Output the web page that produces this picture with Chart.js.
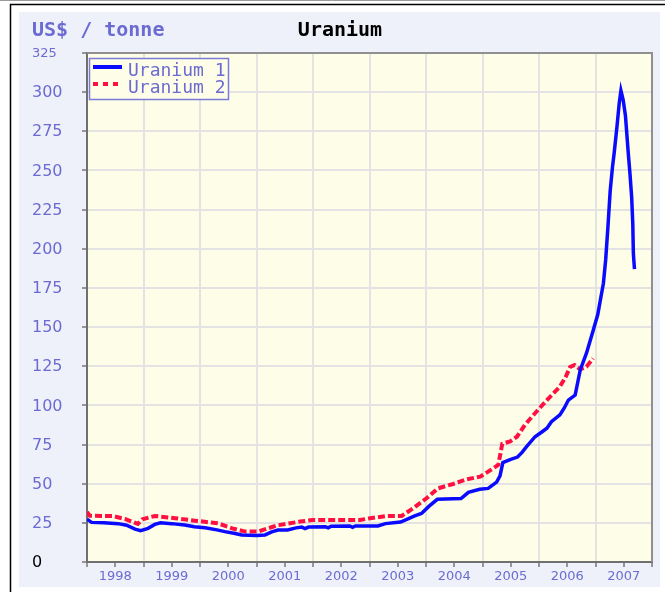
<!DOCTYPE html>
<html>
<head>
<meta charset="utf-8">
<script src="https://cdn.jsdelivr.net/npm/chart.js@4"></script>
<style>
  html, body { margin: 0; padding: 0; background: #fff; }
  #wrap { width: 665px; height: 592px; }
</style>
</head>
<body>
<div id="wrap"><canvas id="chart" width="665" height="592"></canvas></div>
<script>
// decimal years and prices
const u1Dates = [1998.00, 1998.08, 1998.30, 1998.55, 1998.70, 1998.85, 1998.95, 1999.08, 1999.20, 1999.30,
  1999.50, 1999.73, 1999.90, 2000.09, 2000.30, 2000.44, 2000.60, 2000.74, 2001.00, 2001.15,
  2001.27, 2001.38, 2001.55, 2001.70, 2001.80, 2001.86, 2001.92, 2002.22, 2002.27, 2002.32,
  2002.65, 2002.70, 2002.75, 2003.15, 2003.28, 2003.55, 2003.68, 2003.80, 2003.92, 2004.05,
  2004.20, 2004.62, 2004.75, 2004.95, 2005.10, 2005.25, 2005.31, 2005.36, 2005.50, 2005.62,
  2005.70, 2005.78, 2005.93, 2006.05, 2006.14, 2006.22, 2006.37, 2006.45, 2006.52, 2006.64,
  2006.73, 2006.84, 2006.96, 2007.04, 2007.10, 2007.14, 2007.18, 2007.22, 2007.26, 2007.30,
  2007.33, 2007.38, 2007.42, 2007.45, 2007.49, 2007.53, 2007.58, 2007.61, 2007.64, 2007.66,
  2007.67, 2007.69];
const u1Values = [27.3, 25.3, 25, 24.5, 23.5, 21, 20, 21.5, 24, 25,
  24.5, 23.6, 22.5, 21.8, 20.5, 19.4, 18.3, 17.2, 17, 17.3,
  19.2, 20.4, 20.5, 21.8, 22.3, 21.3, 22.3, 22.5, 21.8, 22.8,
  23, 22.2, 23, 23, 24.5, 25.5, 27.5, 29.5, 31, 35.5,
  40, 40.5, 44.5, 46.4, 47, 51, 55, 63.5, 65.5, 67,
  70, 73.6, 80, 83, 85.4, 89.6, 93.9, 98.5, 103.4, 106.6,
  122.6, 133.3, 148, 158, 170, 178, 193, 214, 237, 252,
  261, 278, 293, 301, 295, 285, 261, 248, 233, 216,
  197, 187];

const u2Dates = [1998.00, 1998.05, 1998.45, 1998.67, 1998.90, 1998.98, 1999.20, 1999.56, 1999.91, 2000.32,
  2000.57, 2000.80, 2001.03, 2001.20, 2001.38, 2001.77, 2002.00, 2002.83, 2003.01, 2003.30,
  2003.57, 2003.77, 2004.01, 2004.21, 2004.48, 2004.72, 2004.96, 2005.19, 2005.28, 2005.35,
  2005.49, 2005.61, 2005.75, 2005.93, 2006.14, 2006.37, 2006.47, 2006.55, 2006.63, 2006.73,
  2006.84, 2006.96];
const u2Values = [32, 29.5, 29.4, 27.5, 24.3, 27.3, 29.4, 28, 26.4, 24.7,
  21.5, 19.4, 19.4, 21.5, 23.5, 25.8, 26.8, 26.8, 27.9, 29.4,
  29.4, 34.3, 40.7, 47, 49.8, 52.8, 54.5, 59.8, 62, 75.5,
  77, 80, 87.5, 95, 103.4, 112, 118, 124.5, 125.8, 123,
  124.7, 130];

const yearLabels = ["1998", "1999", "2000", "2001", "2002", "2003", "2004", "2005", "2006", "2007"];

const slate = "#6b6bd1";

//draws the page frame, panel, plot background, titles, y labels and legend
const framePlugin = {
  id: "frame",
  beforeDraw(chart) {
    const { ctx, width, height, chartArea: a } = chart;
    ctx.save();
    ctx.fillStyle = "#ffffff";
    ctx.fillRect(0, 0, width, height);
    ctx.strokeStyle = "#9a9a9a";
    ctx.lineWidth = 1;
    ctx.beginPath(); ctx.moveTo(0, 0.5); ctx.lineTo(width, 0.5); ctx.stroke();
    ctx.strokeStyle = "#000";
    ctx.lineWidth = 1.5;
    ctx.beginPath(); ctx.moveTo(10.5, height); ctx.lineTo(10.5, 4.5); ctx.lineTo(width, 4.5); ctx.stroke();
    ctx.fillStyle = "#eef1fa";
    ctx.fillRect(19, 12, 641, 575);
    ctx.fillStyle = "#fdfde8";
    ctx.fillRect(a.left, a.top, a.right - a.left, a.bottom - a.top);
    ctx.restore();
  },
  afterDraw(chart) {
    const { ctx, chartArea: a } = chart;
    const yScale = chart.scales.y;
    ctx.save();
    //top and right border of the plot
    ctx.strokeStyle = "#909090";
    ctx.lineWidth = 2;
    ctx.beginPath(); ctx.moveTo(a.left, a.top); ctx.lineTo(a.right, a.top); ctx.lineTo(a.right, a.bottom); ctx.stroke();

    //y labels, left aligned like the original
    ctx.textAlign = "left";
    ctx.textBaseline = "middle";
    yScale.ticks.forEach((t) => {
      const small = t.value === 325;
      ctx.font = (small ? 13 : 16) + "px 'DejaVu Sans'";
      ctx.fillStyle = t.value === 0 ? "#000" : slate;
      ctx.fillText(String(t.value), 32, yScale.getPixelForValue(t.value) + 1);
    });

    //titles
    ctx.font = "bold 20px 'DejaVu Sans Mono'";
    ctx.textBaseline = "alphabetic";
    ctx.fillStyle = slate;
    ctx.fillText("US$ / tonne", 32, 36);
    ctx.fillStyle = "#000";
    ctx.textAlign = "center";
    ctx.fillText("Uranium", 340, 36);

    //legend box
    ctx.fillStyle = "#fdfde8";
    ctx.fillRect(89.5, 58.5, 139, 41);
    ctx.strokeStyle = "#7b7bdb";
    ctx.lineWidth = 1.5;
    ctx.strokeRect(89.5, 58.5, 139, 41);
    ctx.font = "18px 'DejaVu Sans Mono'";
    ctx.textAlign = "left";
    chart.data.datasets.forEach((ds, i) => {
      const y = 67 + i * 17;
      ctx.strokeStyle = ds.borderColor;
      ctx.lineWidth = 4;
      ctx.setLineDash(i === 0 ? [] : [5, 5]);
      ctx.beginPath(); ctx.moveTo(93, y); ctx.lineTo(122, y); ctx.stroke();
      ctx.setLineDash([]);
      ctx.fillStyle = slate;
      ctx.fillText(ds.label, 128, y + 9);
    });
    ctx.restore();
  },
};

const isHalf = (v) => Math.abs(v - Math.floor(v) - 0.5) < 1e-6;

new Chart(document.getElementById("chart"), {
  type: "line",
  data: {
    datasets: [
      {
        label: "Uranium 1",
        data: u1Dates.map((d, i) => ({ x: d, y: u1Values[i] })),
        borderColor: "#0a0aff",
        borderWidth: 3.5,
        pointRadius: 0,
        tension: 0,
      },
      {
        label: "Uranium 2",
        data: u2Dates.map((d, i) => ({ x: d, y: u2Values[i] })),
        borderColor: "rgb(255,16,64)",
        borderWidth: 4,
        borderDash: [7, 3],
        pointRadius: 0,
        tension: 0,
      },
    ],
  },
  options: {
    responsive: false,
    animation: false,
    layout: { padding: { left: 32, top: 53, right: 13, bottom: 0 } },
    plugins: { legend: { display: false }, tooltip: { enabled: false } },
    scales: {
      x: {
        type: "linear",
        min: 1998,
        max: 2008,
        //fixed height, no label overflow padding
        afterFit: (s) => { s.height = 30; s.paddingLeft = 0; s.paddingRight = 0; },
        ticks: {
          stepSize: 0.5,
          autoSkip: false,
          maxRotation: 0,
          padding: 2,
          color: slate,
          font: { family: "'DejaVu Sans'", size: 13 },
          callback: (v) => (isHalf(v) ? yearLabels[Math.floor(v) - 1998] : ""),
        },
        grid: {
          lineWidth: 2,
          tickLength: 5,
          tickWidth: 1.5,
          tickColor: "#777",
          color: (c) => (isHalf(c.tick.value) || c.tick.value === 1998 ? "rgba(0,0,0,0)" : "#e3e3e3"),
        },
        border: { color: "#707070", width: 2 },
      },
      y: {
        min: 0,
        max: 325,
        afterFit: (s) => { s.width = 55; s.paddingTop = 0; s.paddingBottom = 0; },
        ticks: {
          stepSize: 25,
          display: false,
        },
        grid: {
          lineWidth: 2,
          tickLength: 5,
          tickWidth: 1.5,
          tickColor: "#777",
          color: (c) => (c.tick.value === 0 ? "rgba(0,0,0,0)" : "#e3e3e3"),
        },
        border: { color: "#707070", width: 2 },
      },
    },
  },
  plugins: [framePlugin],
});
</script>
</body>
</html>
